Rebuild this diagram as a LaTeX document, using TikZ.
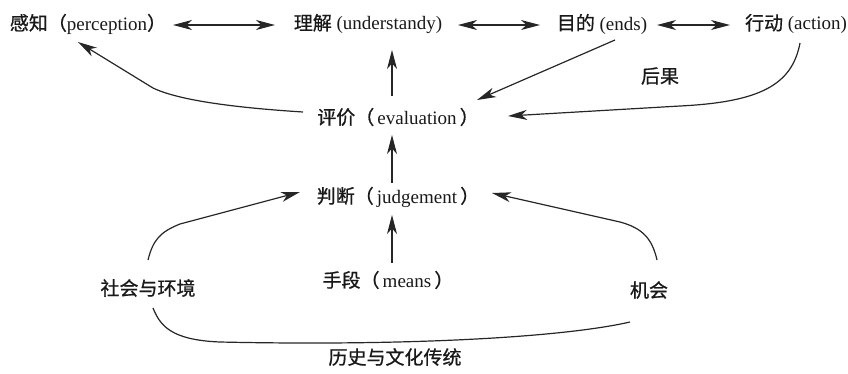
\documentclass[tikz,border=0pt]{standalone}
\usepackage{fontspec}
\setmainfont{Liberation Serif}
\newfontfamily\cjk{Noto Sans CJK SC}[FakeBold=0.8]
\usetikzlibrary{arrows.meta}
\begin{document}
\begin{tikzpicture}[x=1pt,y=-1pt,
  lbl/.style={inner sep=0pt, text=black!90, font=\fontsize{19}{22}\selectfont},
  tip/.tip={Stealth[length=19pt,width=10pt,inset=5.5pt]},
  arr/.style={-tip, line width=1.2pt, draw=black!85},
  darr/.style={tip-tip, line width=1.2pt, draw=black!85},
  ln/.style={line width=1.2pt, draw=black!85}]
\useasboundingbox (0,0) rectangle (848,373);
% nodes
\node[lbl] (per) at (88,24) {{\cjk 感知（}perception{\cjk ）}};
\node[lbl] (und) at (368,24) {{\cjk 理解} (understandy)};
\node[lbl] (ends) at (602,24) {{\cjk 目的} (ends)};
\node[lbl] (act) at (796,24) {{\cjk 行动} (action)};
\node[lbl] (hou) at (660,76) {\cjk 后果};
\node[lbl] (eval) at (398,117) {{\cjk 评价（}\,evaluation\,{\cjk ）}};
\node[lbl] (judg) at (398,197) {{\cjk 判断（}\,judgement\,{\cjk ）}};
\node[lbl] (means) at (388,280) {{\cjk 手段（}\,means\,{\cjk ）}};
\node[lbl] (soc) at (148,288) {\cjk 社会与环境};
\node[lbl] (opp) at (649,290) {\cjk 机会};
\node[lbl] (hist) at (395,357) {\cjk 历史与文化传统};
% coordinates
\coordinate (a1) at (173,25); \coordinate (a2) at (275,25);
\coordinate (b1) at (458,25); \coordinate (b2) at (540,25);
\coordinate (c1) at (657,25); \coordinate (c2) at (730,25);
\coordinate (eu1) at (392,96); \coordinate (eu2) at (392,50);
\coordinate (ep1) at (303,112); \coordinate (ep2) at (78,42);
\coordinate (ee1) at (615,40); \coordinate (ee2) at (477,100);
\coordinate (ae1) at (800,43); \coordinate (ae2) at (508,116);
\coordinate (je1) at (392,183); \coordinate (je2) at (392,135);
\coordinate (sj1) at (148,260); \coordinate (sj2) at (300,192);
\coordinate (oj1) at (657,260); \coordinate (oj2) at (492,193);
\coordinate (mj1) at (392,263); \coordinate (mj2) at (392,215);
\coordinate (h1) at (153,308); \coordinate (h2) at (630,322);
% connectors
\draw[darr] (a1) -- (a2);
\draw[darr] (b1) -- (b2);
\draw[darr] (c1) -- (c2);
\draw[arr] (eu1) -- (eu2);
\draw[arr] (ep1) .. controls (240,108) and (180,101) .. (153,88) -- (ep2);
\draw[arr] (ee1) -- (ee2);
\draw[arr] (ae1) .. controls (792,85) and (760,102) .. (680,106) -- (ae2);
\draw[arr] (je1) -- (je2);
\draw[arr] (sj1) .. controls (153,240) and (160,232) .. (180,224) -- (sj2);
\draw[arr] (oj1) .. controls (652,238) and (642,228) .. (620,222) -- (oj2);
\draw[arr] (mj1) -- (mj2);
\draw[ln] (h1) .. controls (160,325) and (170,340) .. (220,342) .. controls (400,346) and (560,338) .. (h2);
\end{tikzpicture}
\end{document}
